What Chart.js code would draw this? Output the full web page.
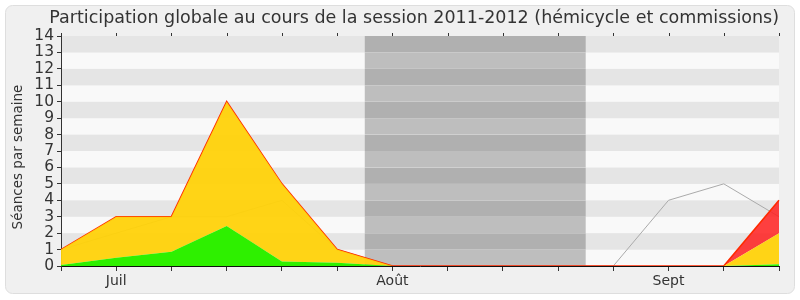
<!DOCTYPE html>
<html>
<head>
<meta charset="utf-8">
<script src="https://cdn.jsdelivr.net/npm/chart.js@4"></script>
<style>
  html, body { margin:0; padding:0; background:#fff; }
  #wrap { width:800px; height:300px; }
</style>
</head>
<body>
<div id="wrap"><canvas id="chart" width="800" height="300"></canvas></div>
<script>
// semaines (une étiquette par mois)
const semaines = ['', 'Juil', '', '', '', '', 'Août', '', '', '', '', 'Sept', '', ''];
// séances par semaine, empilées
const presenceCommission = [0.06, 0.5, 0.87, 2.43, 0.27, 0.2, 0, 0, 0, 0, 0, 0, 0, 0.1];
const presenceHemicycle  = [0.94, 2.5, 2.13, 7.57, 4.73, 0.8, 0, 0, 0, 0, 0, 0, 0, 1.9];
const participations     = [0, 0, 0, 0, 0, 0, 0, 0, 0, 0, 0, 0, 0, 2];
// médiane des députés
const mediane = [1, 2, 3, 3, 4, 1, 0, 0, 0, 0, 0, 4, 5, 3];
// vacances parlementaires (en index de semaine)
const vacances = [5.5, 9.5];
const yMax = 14;

const FONT = "'DejaVu Sans', Verdana, sans-serif";
const TXT = '#333';

// -------- fond : panneau + bandes --------
const fondPlugin = {
  id: 'fond',
  beforeDraw(chart){
    const ctx = chart.ctx;
    const a = chart.chartArea;
    const xs = chart.scales.x, ys = chart.scales.y;
    ctx.save();
    // panneau arrondi
    ctx.fillStyle = '#f0f0f0';
    ctx.strokeStyle = '#dedede';
    ctx.lineWidth = 1;
    ctx.beginPath();
    ctx.roundRect(5.5, 5.5, 789, 288, 7);
    ctx.fill();
    ctx.stroke();
    // bandes horizontales
    const vx0 = xs.getPixelForValue(vacances[0]);
    const vx1 = xs.getPixelForValue(vacances[1]);
    for(let v=0; v<yMax; v++){
      const y0 = ys.getPixelForValue(v), y1 = ys.getPixelForValue(v+1);
      ctx.fillStyle = (v % 2) ? '#e5e5e5' : '#f9f9f9';
      ctx.fillRect(a.left, y1, a.right-a.left, y0-y1);
      ctx.fillStyle = (v % 2) ? '#b0b0b0' : '#bebebe';
      ctx.fillRect(vx0, y1, vx1-vx0, y0-y1);
    }
    // petits repères en haut
    ctx.strokeStyle = '#333';
    ctx.beginPath();
    for(let i=0; i<semaines.length; i++){
      const x = Math.round(xs.getPixelForTick(i)) + 0.5;
      ctx.moveTo(x, a.top-3);
      ctx.lineTo(x, a.top);
    }
    ctx.stroke();
    ctx.restore();
  },
  // titre de l'axe vertical, un peu plus bas que le centre
  afterDraw(chart){
    const ctx = chart.ctx;
    const a = chart.chartArea;
    ctx.save();
    ctx.translate(18, (a.top + a.bottom)/2 + 6);
    ctx.rotate(-Math.PI/2);
    ctx.fillStyle = TXT;
    ctx.font = "13.5px " + FONT;
    ctx.textAlign = 'center';
    ctx.textBaseline = 'middle';
    ctx.fillText('Séances par semaine', 0, 0);
    ctx.restore();
  }
};

new Chart(document.getElementById('chart'), {
  type: 'line',
  data: {
    labels: semaines,
    datasets: [
      {label:'Présences commission', data:presenceCommission, stack:'s', order:1,
       backgroundColor:'rgba(46,240,0,1)', borderWidth:0, fill:'origin', pointRadius:0},
      {label:'Présences hémicycle', data:presenceHemicycle, stack:'s', order:2,
       backgroundColor:'rgba(255,210,10,0.95)', borderWidth:0, fill:'-1', pointRadius:0},
      {label:'Participations', data:participations, stack:'s', order:3,
       backgroundColor:'rgba(255,30,30,0.85)', borderColor:'#ff2a00', borderWidth:1.6, fill:'-1', pointRadius:0},
      {label:'Médiane', data:mediane, stack:'m', order:4,
       borderColor:'#aaaaaa', borderWidth:1, fill:false, pointRadius:0}
    ]
  },
  options: {
    responsive: false,
    animation: false,
    events: [],
    layout: { padding: { left:5, right:21, top:0, bottom:0 } },
    elements: { line: { tension: 0 } },
    plugins: {
      legend: { display:false },
      tooltip: { enabled:false },
      title: {
        display: true,
        text: 'Participation globale au cours de la session 2011-2012 (hémicycle et commissions)',
        align: 'end',
        color: TXT,
        font: { family: FONT, size: 17.5, weight: 'normal', lineHeight: 1.2 },
        padding: { top: 8, bottom: 7 }
      },
      filler: { propagate: false }
    },
    scales: {
      x: {
        offset: false,
        grid: { display:true, drawOnChartArea:false, drawTicks:true, tickLength:5, color:'#333' },
        border: { display:true, color:'#111', width:1 },
        ticks: { autoSkip:false, maxRotation:0, color:TXT, padding:2, font:{ family:FONT, size:14 } },
        afterFit(s){ s.height = 34; }
      },
      y: {
        stacked: true,
        min: 0, max: yMax,
        grid: { display:true, drawOnChartArea:false, drawTicks:true, tickLength:4, color:'#333' },
        border: { display:true, color:'#333', width:1 },
        ticks: { stepSize:1, autoSkip:false, color:TXT, padding:3, font:{ family:FONT, size:15.5 } },
        afterFit(s){ s.width = 56; }
      }
    }
  },
  plugins: [fondPlugin]
});
</script>
</body>
</html>
